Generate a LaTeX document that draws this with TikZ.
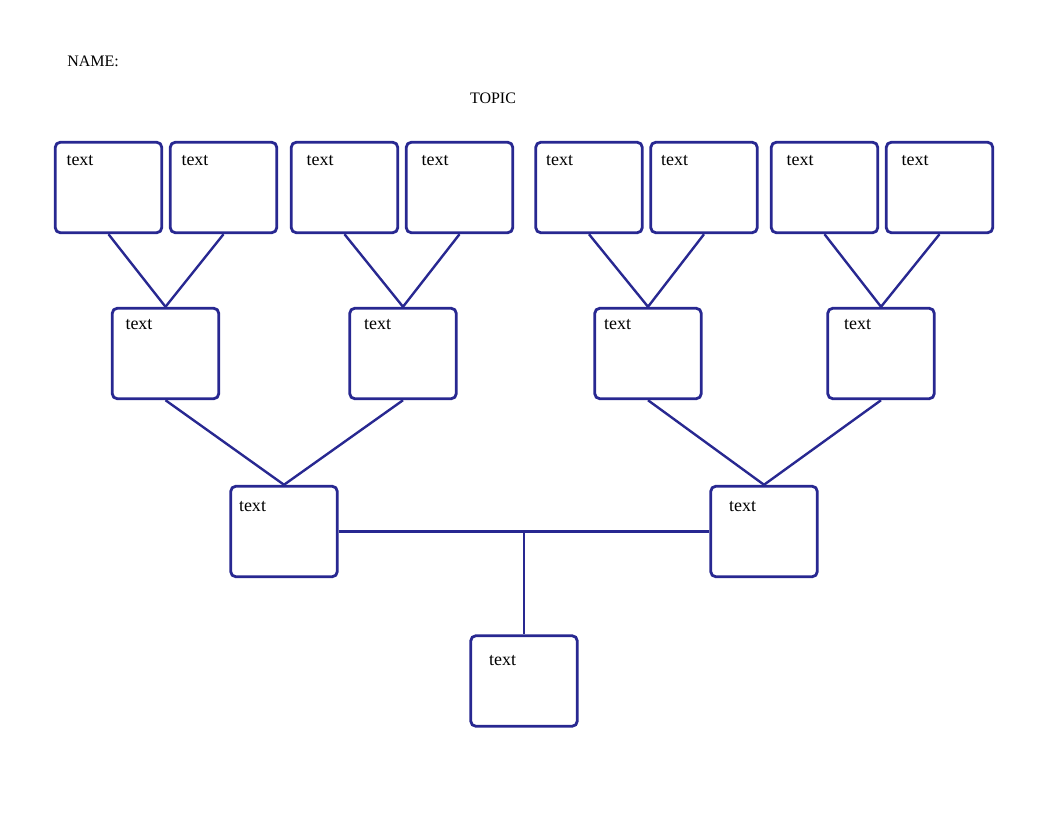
\documentclass[tikz,border=0pt]{standalone}
\usepackage{fontspec}
\setmainfont{Liberation Serif}
\usepackage{tikz}
\usetikzlibrary{calc,positioning}
\definecolor{treeblue}{RGB}{40,40,145}
\tikzset{
    tree box/.style 2 args={
        draw=treeblue,line width=2.1pt,rounded corners=4pt,
        fill=white,
        minimum width=80pt,minimum height=68pt,
        label={[anchor=base west,inner sep=0pt,xshift=#1*0.75pt-0.4pt,yshift=-#2*0.75pt-1.2pt,font=\fontsize{13.5pt}{15pt}\selectfont]north west:text}
    },
    tree line/.style={draw=treeblue,line width=1.8pt},
}
\begin{document}
\begin{tikzpicture}[x=0.75pt,y=-0.75pt]
		\useasboundingbox (0,0) rectangle (1056,816);
		\node[anchor=base west,inner sep=0pt,font=\fontsize{12pt}{14pt}\selectfont] (name) at (67,67) {NAME:};
		\node[anchor=base,inner sep=0pt,font=\fontsize{12pt}{14pt}\selectfont] (topic) at (493,104) {TOPIC};

		% top row
		\foreach \x/\name/\dx in {108.5/a1/13,223.5/a2/13,344.5/a3/17,459.5/a4/17,589/a5/12,704/a6/12,824.5/a7/17,939.5/a8/17}
		\node[tree box={\dx}{23}] (\name) at (\x,187.5) {};
		% second row
		\foreach \x/\name/\dx in {165.5/b1/15,403/b2/16,648/b3/11,881/b4/18}
		\node[tree box={\dx}{21}] (\name) at (\x,353.5) {};
		% third row
		\node[tree box={10}{25}] (c1) at (284,531.5) {};
		\node[tree box={20}{25}] (c2) at (764,531.5) {};
		% bottom
		\node[tree box={20}{30}] (root) at (524,681) {};

		\foreach \up/\down in {a1/b1,a2/b1,a3/b2,a4/b2,a5/b3,a6/b3,a7/b4,a8/b4,b1/c1,b2/c1,b3/c2,b4/c2}
		\draw[tree line] (\up.south) -- (\down.north);

		\draw[tree line] (c1.east) -- (c2.west);
		\coordinate (join) at (root.north |- c1.east);
		\draw[tree line] (join) -- (root.north);
	\end{tikzpicture}
\end{document}
